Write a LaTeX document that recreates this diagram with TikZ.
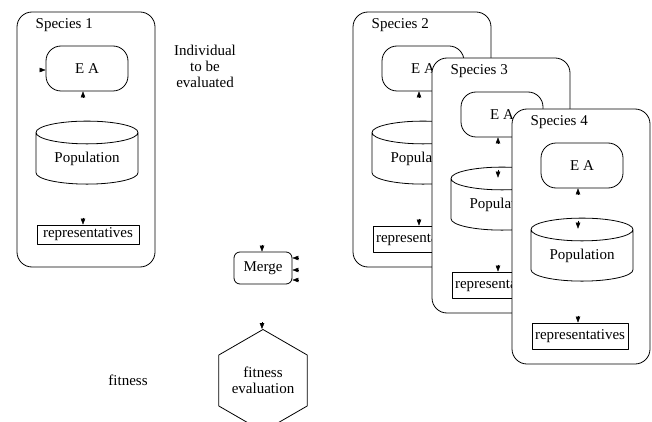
\documentclass[tikz,border=0pt]{standalone}
\usepackage{fontspec}
\setmainfont{Liberation Serif}
\usetikzlibrary{positioning}
\usetikzlibrary{shapes}
\usetikzlibrary{calc}
\usetikzlibrary{arrows.meta}

\tikzset{
  speciesbox/.style={draw,rounded corners=15pt,fill=white,minimum width=138pt,minimum height=255pt,inner sep=0pt},
  eabox/.style={draw,rounded corners=15pt,fill=white,minimum width=82pt,minimum height=45pt,inner sep=0pt},
  popcyl/.style={draw,cylinder,shape border rotate=90,aspect=0.35,minimum width=102pt,minimum height=63pt,inner sep=0pt,fill=white},
  repbox/.style={draw,inner sep=0pt,fill=white},
  mergebox/.style={draw,rounded corners=6pt,minimum width=58pt,minimum height=32pt,inner sep=0pt},
  fitnesshex/.style={draw,regular polygon,regular polygon sides=6,shape border rotate=30,minimum size=94.6pt,inner sep=0pt,align=center},
  onlytip/.style={-{Triangle[length=6pt,width=4.5pt]},line width=0.4pt}
}

\begin{document}
\begin{tikzpicture}[x=1pt,y=-1pt,line width=0.8pt,line join=round,font=\fontsize{15}{16}\selectfont]
\useasboundingbox (0,0) rectangle (652,422);
\clip (0,0) rectangle (652,422);

% Species 1
\begin{scope}[shift={(17,12)}]
\node[speciesbox] (s1) at (69,127.5) {};
\node[anchor=west] (s1lab) at (15,13) {Species 1};
\node[eabox] (s1ea) at (70,56.5) {E A};
\node[popcyl] (s1pop) at (70,146.5) {Population};
\node[repbox,minimum width=102pt,minimum height=19pt] (s1rep) at (71,222.5) {representatives};
\draw[onlytip] ($(s1ea.west)+(-6,1.5)$) -- ($(s1ea.west)+(0,1.5)$);
\draw[onlytip] ($(s1ea.south)+(-4,6)$) -- ($(s1ea.south)+(-4,0)$);
\draw[onlytip] ($(s1rep.north)+(-5,-7)$) -- ($(s1rep.north)+(-5,0)$);
\end{scope}

% Species 2
\begin{scope}[shift={(353,12)}]
\node[speciesbox] (s2) at (69,127.5) {};
\node[anchor=west] (s2lab) at (15,13) {Species 2};
\node[eabox] (s2ea) at (70,56.5) {E A};
\node[popcyl] (s2pop) at (70,146.5) {Population};
\node[repbox,minimum width=96pt,minimum height=26pt] (s2rep) at (68,227) {representatives};
\draw[onlytip] ($(s2ea.south)+(-4,6)$) -- ($(s2ea.south)+(-4,0)$);
\draw[onlytip] ($(s2rep.north)+(-2,-7)$) -- ($(s2rep.north)+(-2,0)$);
\end{scope}

% Species 3
\begin{scope}[shift={(432,58)}]
\node[speciesbox] (s3) at (69,127.5) {};
\node[anchor=west] (s3lab) at (15,13) {Species 3};
\node[eabox] (s3ea) at (70,56.5) {E A};
\node[popcyl] (s3pop) at (70,146.5) {Population};
\node[repbox,minimum width=96pt,minimum height=26pt] (s3rep) at (68,227) {representatives};
\draw[onlytip] ($(s3ea.south)+(-4,6)$) -- ($(s3ea.south)+(-4,0)$);
\draw[onlytip] ($(s3pop.north)+(-4,3)$) -- ($(s3pop.north)+(-4,11)$);
\draw[onlytip] ($(s3rep.north)+(-2,-7)$) -- ($(s3rep.north)+(-2,0)$);
\end{scope}

% Species 4
\begin{scope}[shift={(512,109)}]
\node[speciesbox] (s4) at (69,127.5) {};
\node[anchor=west] (s4lab) at (15,13) {Species 4};
\node[eabox] (s4ea) at (70,56.5) {E A};
\node[popcyl] (s4pop) at (70,146.5) {Population};
\node[repbox,minimum width=96pt,minimum height=26pt] (s4rep) at (68,227) {representatives};
\draw[onlytip] ($(s4ea.south)+(-4,6)$) -- ($(s4ea.south)+(-4,0)$);
\draw[onlytip] ($(s4pop.north)+(-4,3)$) -- ($(s4pop.north)+(-4,11)$);
\draw[onlytip] ($(s4rep.north)+(-2,-7)$) -- ($(s4rep.north)+(-2,0)$);
\end{scope}

% middle column
\node[align=center] (indiv) at (205,66) {Individual\\to be\\evaluated};
\node[mergebox] (merge) at (263,268) {Merge};
\draw[onlytip] ($(merge.north)+(-1,-7)$) -- ($(merge.north)+(-1,0)$);
\draw[onlytip] ($(merge.east)+(6,-10)$) -- ($(merge.east)+(0,-10)$);
\draw[onlytip] ($(merge.east)+(6,2)$) -- ($(merge.east)+(0,2)$);
\draw[onlytip] ($(merge.east)+(6,12)$) -- ($(merge.east)+(0,12)$);
\node[fitnesshex] (fiteval) at (263,380.5) {fitness\\evaluation};
\draw[onlytip] ($(fiteval.corner 1)+(-1,-7)$) -- ($(fiteval.corner 1)+(-1,0)$);
\node (fit) at (128,380) {fitness};
\end{tikzpicture}
\end{document}
